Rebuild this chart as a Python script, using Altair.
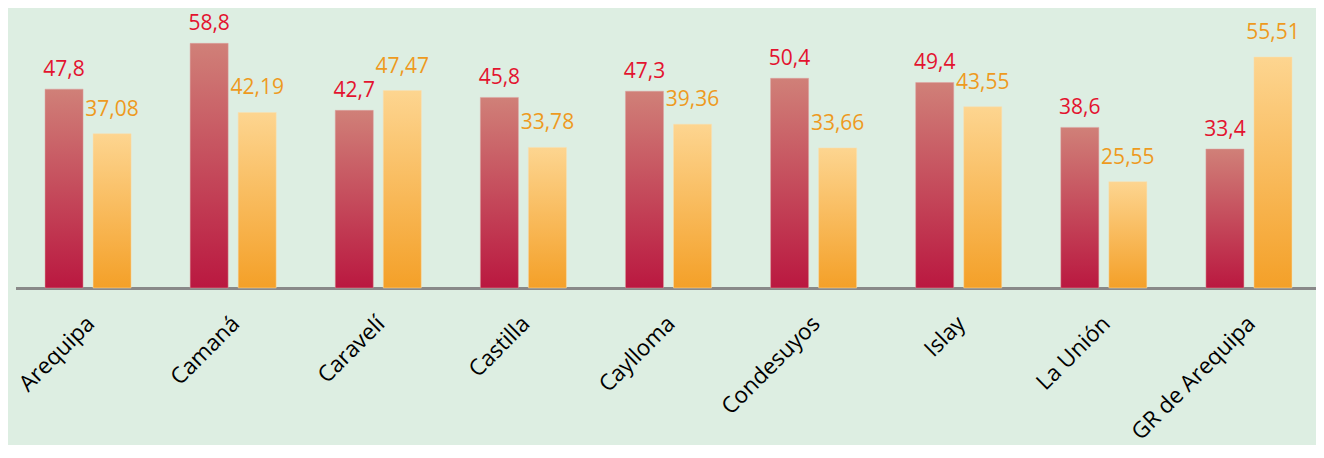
import altair as alt
import pandas as pd

categories = ["Arequipa", "Camaná", "Caravelí", "Castilla", "Caylloma",
              "Condesuyos", "Islay", "La Unión", "GR de Arequipa"]
serie_a = [47.8, 58.8, 42.7, 45.8, 47.3, 50.4, 49.4, 38.6, 33.4]
serie_b = [37.08, 42.19, 47.47, 33.78, 39.36, 33.66, 43.55, 25.55, 55.51]
series = ["A", "B"]

rows = []
for c, a, b in zip(categories, serie_a, serie_b):
    rows.append({"cat": c, "serie": "A", "v": a, "lab": str(a).replace(".", ",")})
    rows.append({"cat": c, "serie": "B", "v": b, "lab": str(b).replace(".", ",")})
df = pd.DataFrame(rows)

BG = "#DDEEE2"
FONT = "Open Sans"

x = alt.X("cat:N", sort=categories, title=None,
          scale=alt.Scale(paddingInner=0, paddingOuter=0, range=[7.5, 1313.5]),
          axis=alt.Axis(labelAngle=-45, labelAlign="right", labelBaseline="top",
                        labelPadding=24, labelOffset=-5, labelFontSize=22.5,
                        labelLimit=400, labelOverlap=False,
                        labelFont=FONT, labelColor="#000000", ticks=False,
                        domainColor="#898989", domainWidth=3, grid=False))
xo = alt.XOffset("serie:N", sort=series,
                 scale=alt.Scale(domain=series, paddingInner=0.2083, paddingOuter=0.6146))
y = alt.Y("v:Q", scale=alt.Scale(domain=[0, 67.3], nice=False, zero=True),
          axis=None)

base = alt.Chart(df)

grad_a = alt.Gradient(gradient="linear", x1=0, y1=0, x2=0, y2=1,
                      stops=[alt.GradientStop(color="#D08078", offset=0),
                             alt.GradientStop(color="#BA1840", offset=1)])
grad_b = alt.Gradient(gradient="linear", x1=0, y1=0, x2=0, y2=1,
                      stops=[alt.GradientStop(color="#FDD590", offset=0),
                             alt.GradientStop(color="#F4A028", offset=1)])

bars_a = base.transform_filter(alt.datum.serie == "A").mark_bar(
    fill=grad_a, stroke="#E0A0A0", strokeWidth=0.8, strokeOpacity=0.6
).encode(x=x, xOffset=xo, y=y)
bars_b = base.transform_filter(alt.datum.serie == "B").mark_bar(
    fill=grad_b, stroke="#FBE0B0", strokeWidth=0.8, strokeOpacity=0.6
).encode(x=x, xOffset=xo, y=y)

txt_a = base.transform_filter(alt.datum.serie == "A").mark_text(
    font=FONT, fontSize=21, color="#E3132F", baseline="alphabetic", dy=-13
).encode(x=x, xOffset=xo, y=y, text="lab:N")
txt_b = base.transform_filter(alt.datum.serie == "B").mark_text(
    font=FONT, fontSize=21, color="#EE9A1E", baseline="alphabetic", dy=-18
).encode(x=x, xOffset=xo, y=y, text="lab:N")

chart = alt.layer(bars_a, bars_b, txt_a, txt_b).properties(
    width=1308, height=280,
    background=BG,
    autosize=alt.AutoSizeParams(type="none"),
    padding={"left": 0, "top": 0, "right": 0, "bottom": 157},
).configure_view(stroke=None)

chart.save("out.html", embed_options={"renderer": "svg", "actions": False})
